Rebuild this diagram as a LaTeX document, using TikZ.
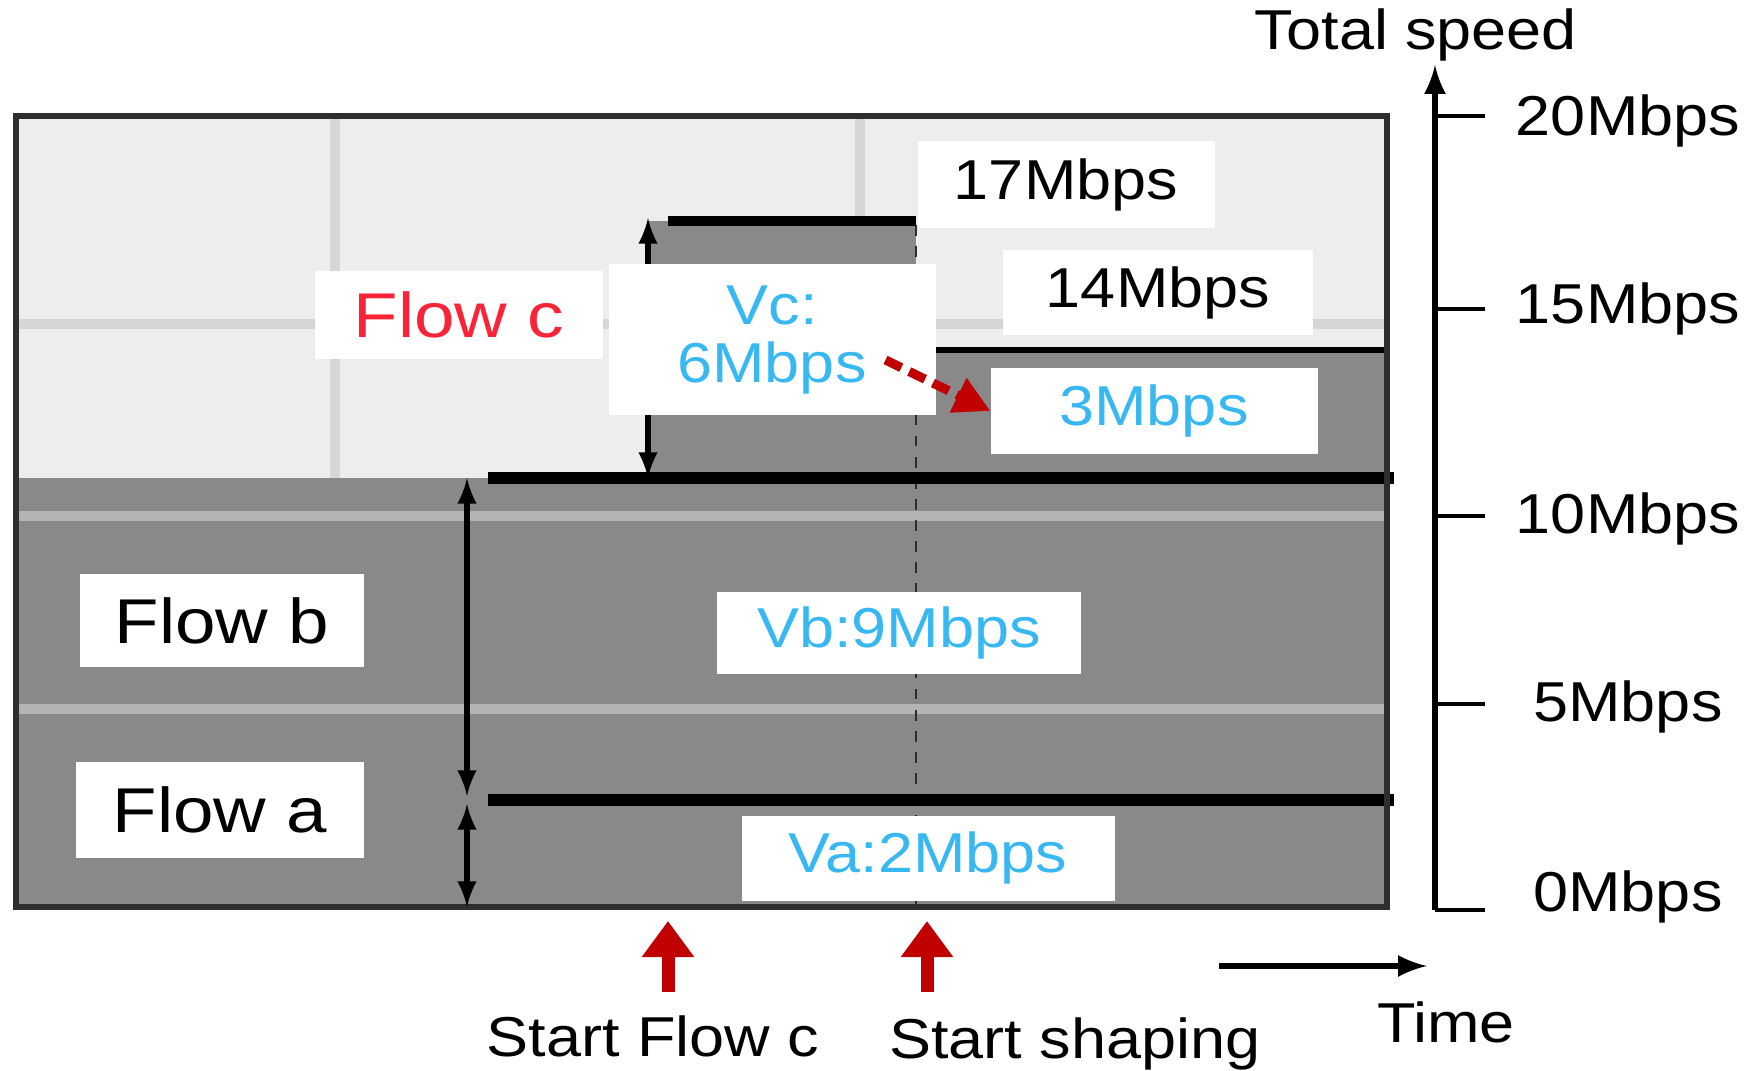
\documentclass[tikz,border=0pt]{standalone}
\usepackage{fontspec}
\setmainfont{Liberation Sans}
\usetikzlibrary{arrows.meta,calc}

\definecolor{bggray}{HTML}{EDEDED}
\definecolor{flowgray}{HTML}{898989}
\definecolor{gridgray}{HTML}{D6D6D6}
\definecolor{gridlight}{HTML}{B4B4B4}
\definecolor{framegray}{HTML}{2E2E2E}
\definecolor{speedblue}{HTML}{38B8F2}
\definecolor{flowred}{HTML}{FA2438}
\definecolor{markred}{HTML}{C00000}

\newcommand{\wide}[1]{\scalebox{1.12}[1]{#1}}
\newcommand{\wider}[1]{\scalebox{1.15}[1]{#1}}

\begin{document}
\begin{tikzpicture}[scale=1.0]
\tikzset{ >=latex, inner sep=0pt, outer sep=0pt,
  box/.style={fill=white, font=\fontsize{16}{16.5}\selectfont, align=center},
  flowbox/.style={box, font=\fontsize{18}{20}\selectfont},
  rate/.style={box, text=speedblue},
  axislbl/.style={font=\fontsize{16}{18}\selectfont},
  bar/.style={line width=3.2pt},
  startmark/.style={markred, line width=0.13cm, -{Triangle[width=0.5cm,length=0.36cm]}},
}

\useasboundingbox (0,0) rectangle (17.51,10.70);

%\draw [lightgray, dashed](0,0) grid (17,10);

\fill[bggray] (0.16,1.63) rectangle (13.87,9.54);
\draw[gridgray, line width=3pt] (3.35,5.92) -- (3.35,9.54);
\draw[gridgray, line width=3pt] (8.60,5.92) -- (8.60,9.54);
\draw[gridgray, line width=3pt] (0.16,7.46) -- (13.87,7.46);

\fill[flowgray] (0.16,1.63) rectangle (13.87,5.92);
\fill[flowgray] (6.48,5.92) rectangle (9.16,8.49);
\fill[flowgray] (9.16,5.92) rectangle (13.87,7.20);

\draw[gridlight, line width=3pt] (0.16,5.54) -- (13.87,5.54);
\draw[gridlight, line width=3pt] (0.16,3.61) -- (13.87,3.61);

\draw[dashed, framegray, line width=0.8pt] (9.16,8.45) -- (9.16,1.63);

\draw[line width=2.6pt] (6.68,8.49) -- (9.16,8.49);
\draw[line width=1.6pt] (9.36,7.20) -- (13.87,7.20);
\draw[bar] (4.88,5.92) -- (13.94,5.92);
\draw[bar] (4.88,2.70) -- (13.94,2.70);

\draw[framegray, line width=1.8pt] (0.16,1.63) rectangle (13.87,9.54);

\coordinate (c11) at (6.48,5.92);
\coordinate (c17) at (6.48,8.52);
\coordinate (b11) at (4.67,5.92);
\coordinate (b2)  at (4.67,2.74);
\coordinate (a2)  at (4.67,2.66);
\coordinate (a0)  at (4.67,1.63);

\draw [<->, line width=1.5pt] (c11) -- (c17);
\draw [<->, line width=1.5pt] (b11) -- (b2);
\draw [<->, line width=1.5pt] (a2)  -- (a0);

\node [flowbox, text=flowred, minimum width=2.88cm, minimum height=0.88cm] (flowc) at (4.59,7.55) {\wider{Flow c}};
\node [flowbox, minimum width=2.84cm, minimum height=0.93cm] (flowb) at (2.22,4.49) {\wider{Flow b}};
\node [flowbox, minimum width=2.88cm, minimum height=0.96cm] (flowa) at (2.20,2.60) {\wider{Flow a}};

\node [rate, minimum width=3.27cm, minimum height=1.51cm] (vc) at (7.72,7.30) {\wide{Vc:}\\\wide{6Mbps}};
\node [rate, minimum width=3.64cm, minimum height=0.82cm] (vb) at (8.99,4.37) {\wide{Vb:9Mbps}};
\node [rate, minimum width=3.73cm, minimum height=0.85cm] (va) at (9.28,2.12) {\wide{Va:2Mbps}};
\node [rate, minimum width=3.27cm, minimum height=0.85cm] (s3) at (11.54,6.59) {\wide{3Mbps}};

\node [box, minimum width=2.97cm, minimum height=0.87cm] (s17) at (10.66,8.85) {\wide{17Mbps}};
\node [box, minimum width=3.10cm, minimum height=0.85cm] (s14) at (11.58,7.77) {\wide{14Mbps}};

\draw [markred, dash pattern=on 5pt off 2.5pt, line width=2.6pt, -{Triangle[width=0.36cm,length=0.36cm]}] ($(vc.east)+(-0.50,-0.20)$) -- (s3.west);

% speed axis
\coordinate (o) at (14.35,1.60);
\coordinate (top) at (14.35,10.05);
\draw [->, line width=1.8pt] (o) -- (top);
\foreach \y/\ly/\v in {9.54/9.49/20, 7.61/7.61/15, 5.54/5.51/10, 3.66/3.63/5, 1.60/1.73/0} {
  \draw [line width=1.2pt] (14.35,\y) -- (14.85,\y);
  \node [axislbl] (tick\v) at (16.28,\ly) {\wide{\v Mbps}};
}
\node [axislbl] (speed) at (14.16,10.35) {\wide{Total speed}};

% time
\coordinate (t0) at (12.19,1.04);
\coordinate (t1) at (14.27,1.04);
\draw [->, line width=1.8pt] (t0) -- (t1);
\node [axislbl] (time) at (14.46,0.48) {\wide{Time}};

\coordinate (fcfoot) at (6.68,0.78);
\coordinate (fctip)  at (6.68,1.49);
\coordinate (shfoot) at (9.27,0.78);
\coordinate (shtip)  at (9.27,1.49);
\draw [startmark] (fcfoot) -- (fctip);
\draw [startmark] (shfoot) -- (shtip);
\node [axislbl] (startc) at (6.53,0.34) {\wide{Start Flow c}};
\node [axislbl] (starts) at (10.75,0.26) {\wide{Start shaping}};

\end{tikzpicture}
\end{document}
